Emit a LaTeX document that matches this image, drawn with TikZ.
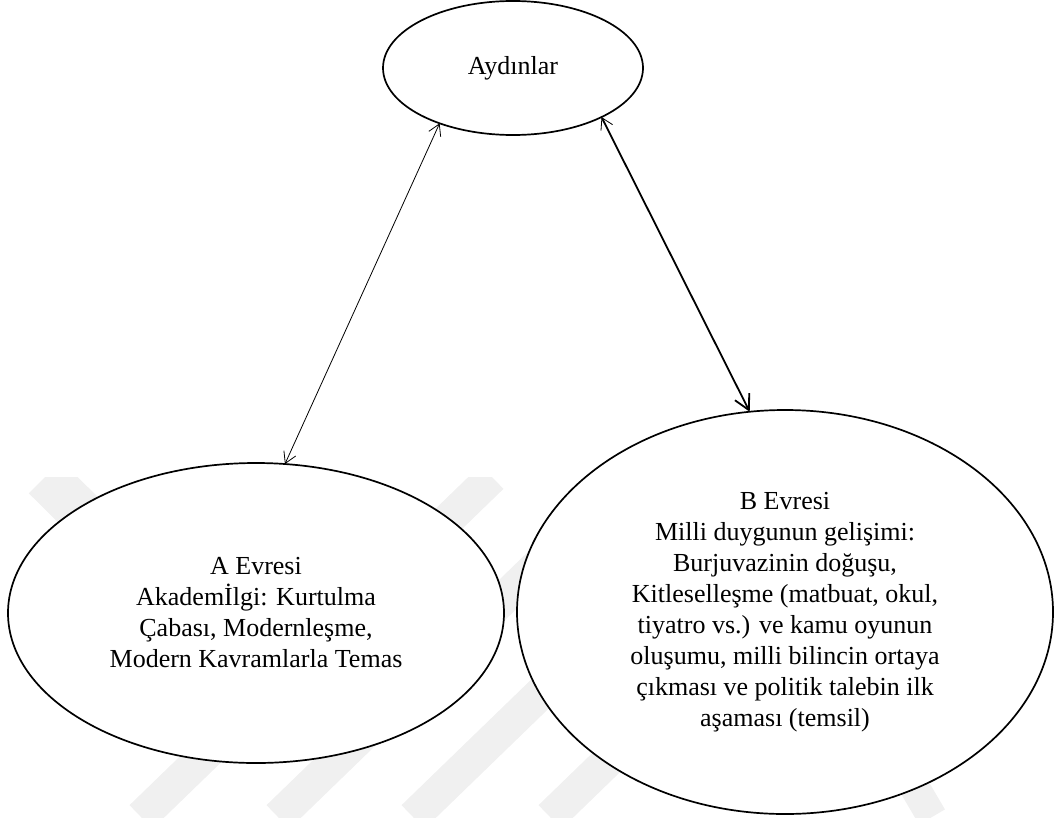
\documentclass[tikz,border=0pt]{standalone}
\usepackage{fontspec}
\setmainfont{Liberation Serif}
\usetikzlibrary{arrows.meta,shapes.geometric}
\begin{document}
\begin{tikzpicture}[
x=1pt,y=-1pt,
phase/.style={ellipse,draw,line width=1.7pt,fill=white,inner sep=0pt,outer sep=0pt,
  align=center,font=\fontsize{26}{31}\selectfont},
link/.style={line width=0.8pt,
  {Straight Barb[length=11pt,width=13pt]}-{Straight Barb[length=11pt,width=13pt]}},
wmband/.style={draw=black!6,line width=33pt},
]
\useasboundingbox (0,0) rectangle (1054,817);
% watermark
\begin{scope}
\clip (0,477) rectangle (1054,817);
\draw[wmband,line width=46pt] (45,477) -- (275,705);
\draw[wmband] (492,477) -- (141,817);
\draw[wmband] (629,477) -- (278,817);
\draw[wmband] (764,477) -- (413,817);
\draw[wmband] (901,477) -- (550,817);
\draw[wmband,line width=30pt] (932,817) -- (840,660);
\end{scope}
% phases
\node[phase,minimum width=260pt,minimum height=134pt] (ayd) at (513,68) {Aydınlar};
\node[phase,minimum width=496pt,minimum height=300pt] (evrea) at (256,613)
  {A Evresi\\Akademİlgi: Kurtulma\\Çabası, Modernleşme,\\Modern Kavramlarla Temas};
\node[phase,minimum width=536pt,minimum height=404pt] (evreb) at (785,612)
  {B Evresi\\Milli duygunun gelişimi:\\Burjuvazinin doğuşu,\\Kitleselleşme (matbuat, okul,\\
   tiyatro vs.) ve kamu oyunun\\oluşumu, milli bilincin ortaya\\çıkması ve politik talebin ilk\\aşaması (temsil)};
% links
\draw[link] (ayd.217.8) -- (evrea.79);
\draw[link,line width=1.8pt,
  {Straight Barb[length=11pt,width=13pt,line width=0.8pt]}-{Straight Barb[length=15pt,width=16pt]}]
  (ayd.331.2) -- (evreb.100.6);
\end{tikzpicture}
\end{document}
